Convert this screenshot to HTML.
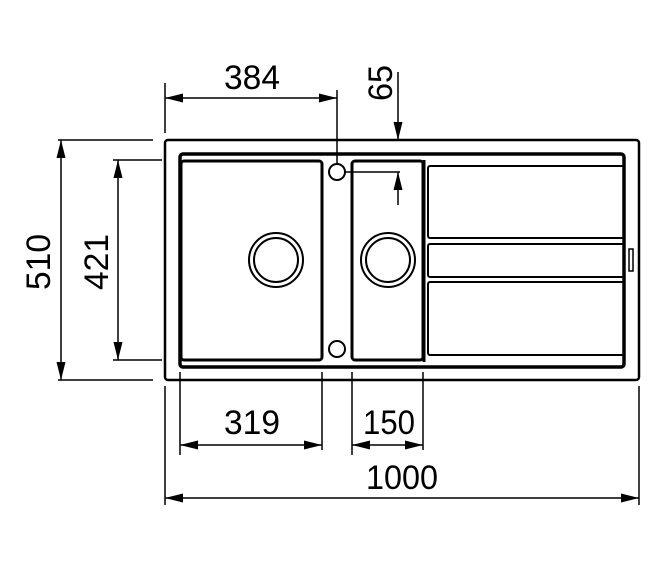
<!DOCTYPE html>
<html><head><style>body{margin:0;background:#fff}svg{display:block}text{font-family:"Liberation Sans",Arial,sans-serif;font-size:34px;fill:#000}</style></head>
<body>
<svg width="668" height="562" viewBox="0 0 668 562" xmlns="http://www.w3.org/2000/svg">
<defs>
<marker id="a" viewBox="0 0 18 9" refX="18" refY="4.5" markerWidth="18" markerHeight="9" markerUnits="userSpaceOnUse" orient="auto-start-reverse"><path d="M0,0L18,4.5L0,9z" fill="#000"/></marker>
</defs>
<g fill="none" stroke="#000">
<rect x="165" y="140" width="474" height="240" rx="3" stroke-width="2.5"/>
<rect x="180" y="154" width="444" height="213" rx="3" stroke-width="3.5"/>
<rect x="181" y="161" width="141" height="199" rx="3" stroke-width="3"/>
<rect x="352" y="161" width="71" height="199" rx="3" stroke-width="3"/>
<line x1="424" y1="160" x2="424" y2="362" stroke-width="3"/>
<circle cx="276" cy="260" r="27" stroke-width="2"/>
<circle cx="276" cy="260" r="22" stroke-width="2"/>
<circle cx="388" cy="260" r="27" stroke-width="2"/>
<circle cx="388" cy="260" r="22" stroke-width="2"/>
<circle cx="337" cy="172" r="8" stroke-width="2"/>
<circle cx="337" cy="349" r="8" stroke-width="2"/>
<path d="M624,166H430a2,2 0 0 0 -2,2V236a2,2 0 0 0 2,2H624" stroke-width="2"/>
<path d="M624,244H430a2,2 0 0 0 -2,2V275a2,2 0 0 0 2,2H624" stroke-width="2"/>
<path d="M624,282H430a2,2 0 0 0 -2,2V353a2,2 0 0 0 2,2H624" stroke-width="2"/>
<rect x="629" y="249" width="4" height="22" stroke-width="1.5"/>
<g stroke-width="1.5">
<line x1="165" y1="83" x2="165" y2="133"/>
<line x1="337" y1="90" x2="337" y2="164"/>
<line x1="165" y1="98" x2="337" y2="98" marker-start="url(#a)" marker-end="url(#a)"/>
<line x1="398" y1="72" x2="398" y2="140" marker-end="url(#a)"/>
<line x1="398" y1="205" x2="398" y2="172" marker-end="url(#a)"/>
<line x1="345" y1="172" x2="400" y2="172"/>
<line x1="58" y1="140" x2="153" y2="140"/>
<line x1="58" y1="380" x2="153" y2="380"/>
<line x1="113" y1="160" x2="162" y2="160"/>
<line x1="113" y1="360" x2="162" y2="360"/>
<line x1="61" y1="140" x2="61" y2="380" marker-start="url(#a)" marker-end="url(#a)"/>
<line x1="118" y1="160" x2="118" y2="360" marker-start="url(#a)" marker-end="url(#a)"/>
<line x1="180" y1="372" x2="180" y2="455"/>
<line x1="322" y1="372" x2="322" y2="450"/>
<line x1="352" y1="372" x2="352" y2="455"/>
<line x1="423" y1="372" x2="423" y2="450"/>
<line x1="165" y1="386" x2="165" y2="505"/>
<line x1="639" y1="386" x2="639" y2="505"/>
<line x1="180" y1="445" x2="322" y2="445" marker-start="url(#a)" marker-end="url(#a)"/>
<line x1="352" y1="445" x2="423" y2="445" marker-start="url(#a)" marker-end="url(#a)"/>
<line x1="165" y1="498" x2="639" y2="498" marker-start="url(#a)" marker-end="url(#a)"/>
</g>
</g>
<text x="252" y="89" text-anchor="middle" textLength="56" lengthAdjust="spacingAndGlyphs">384</text>
<text transform="translate(392,83) rotate(-90)" text-anchor="middle" textLength="36" lengthAdjust="spacingAndGlyphs">65</text>
<text transform="translate(50,262) rotate(-90)" text-anchor="middle" textLength="56" lengthAdjust="spacingAndGlyphs">510</text>
<text transform="translate(108,262) rotate(-90)" text-anchor="middle" textLength="56" lengthAdjust="spacingAndGlyphs">421</text>
<text x="252" y="434" text-anchor="middle" textLength="56" lengthAdjust="spacingAndGlyphs">319</text>
<text x="389" y="434" text-anchor="middle" textLength="52" lengthAdjust="spacingAndGlyphs">150</text>
<text x="402" y="489" text-anchor="middle" textLength="72" lengthAdjust="spacingAndGlyphs">1000</text>
</svg>
</body></html>
